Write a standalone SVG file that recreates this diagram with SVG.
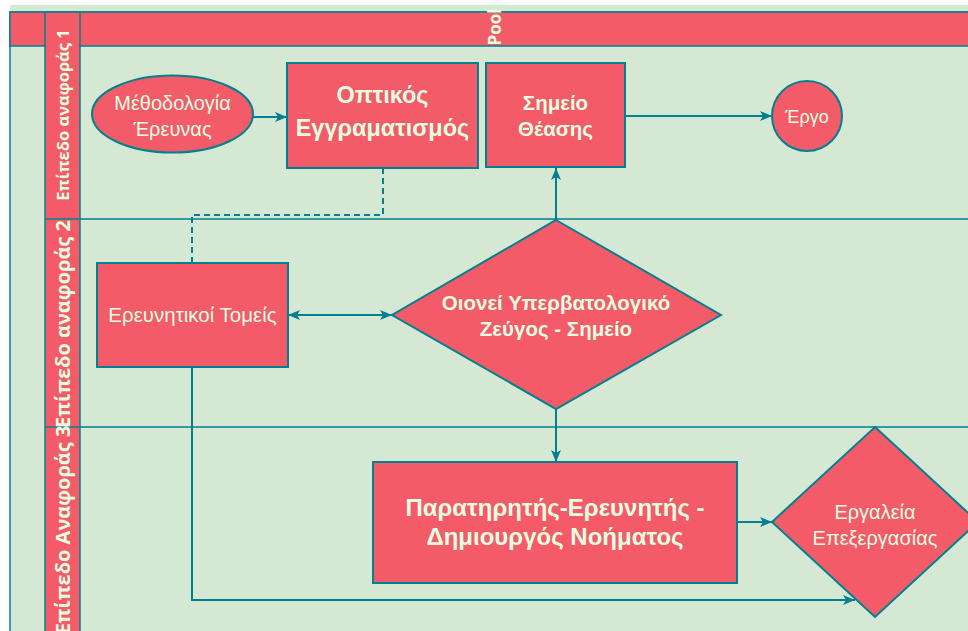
<svg xmlns="http://www.w3.org/2000/svg" width="968" height="631" viewBox="0 0 968 631">
<defs>
<style>
.bg{fill:#D5E8D4;}
.red{fill:#F45B69;stroke:#028090;stroke-width:2;}
.lane{fill:none;stroke:#028090;stroke-width:1.5;}
.edge{fill:none;stroke:#028090;stroke-width:2;}
.dash{fill:none;stroke:#028090;stroke-width:2;stroke-dasharray:6 4;}
.t{font-family:"Liberation Sans",Arial,sans-serif;fill:#E4FDE1;text-anchor:middle;}
.b{font-weight:bold;}
.lbl{font-family:"Open Sans","Liberation Sans",sans-serif;font-weight:bold;fill:#E4FDE1;text-anchor:middle;dominant-baseline:central;}
</style>
<marker id="arr" viewBox="0 0 12 10" refX="12" refY="5" markerWidth="12" markerHeight="10" markerUnits="userSpaceOnUse" orient="auto-start-reverse">
<path d="M0,0 L12,5 L0,10 L3,5 z" fill="#028090"/>
</marker>
</defs>
<rect x="0" y="0" width="968" height="631" fill="#FFFFFF"/>
<g id="pool">
<rect class="bg" x="10" y="5" width="958" height="7"/>
<rect class="bg" x="10" y="12" width="970" height="630" stroke="#028090" stroke-width="1.5"/>
<rect x="10" y="12" width="970" height="34" fill="#F45B69" stroke="#028090" stroke-width="1.5"/>
<text class="lbl" font-size="17" transform="translate(494,27) rotate(-90)">Pool</text>
</g>
<g id="lanes">
<rect x="45" y="12" width="35" height="630" fill="#F45B69" stroke="#028090" stroke-width="1.5"/>
<line class="lane" x1="45" y1="219" x2="968" y2="219"/>
<line class="lane" x1="45" y1="427" x2="968" y2="427"/>
<text class="lbl" font-size="16.5" transform="translate(62.5,115) rotate(-90)">Επίπεδο αναφοράς 1</text>
<text class="lbl" font-size="20" transform="translate(62.5,324) rotate(-90)">Επίπεδο αναφοράς 2</text>
<text class="lbl" font-size="20" transform="translate(62.5,530) rotate(-90)">Επίπεδο Αναφοράς 3</text>
</g>
<g id="connectors">
<line class="edge" x1="253" y1="117" x2="287" y2="117" marker-end="url(#arr)"/>
<line class="edge" x1="625" y1="116" x2="772" y2="116" marker-end="url(#arr)"/>
<line class="edge" x1="556" y1="220" x2="556" y2="168" marker-end="url(#arr)"/>
<line class="edge" x1="288" y1="315" x2="392" y2="315" marker-start="url(#arr)" marker-end="url(#arr)"/>
<line class="edge" x1="556" y1="409" x2="556" y2="462" marker-end="url(#arr)"/>
<line class="edge" x1="737" y1="522" x2="772" y2="522" marker-end="url(#arr)"/>
<polyline class="edge" points="192,367 192,600 855,600" marker-end="url(#arr)"/>
<polyline class="dash" points="383,168 383,215 192,215 192,263"/>
</g>
<g id="n-methodologia">
<ellipse class="red" cx="172.5" cy="114" rx="80.5" ry="38.5"/>
<text class="t" font-size="20" x="172.5" y="110">Μέθοδολογία</text>
<text class="t" font-size="20" x="172.5" y="136">Έρευνας</text>
</g>
<g id="n-optikos">
<rect class="red" x="287" y="63" width="191" height="105"/>
<text class="t b" font-size="23.5" x="382.5" y="103">Οπτικός</text>
<text class="t b" font-size="23.5" x="382.5" y="136">Εγγραματισμός</text>
</g>
<g id="n-simeio">
<rect class="red" x="486" y="63" width="139" height="104"/>
<text class="t b" font-size="20.5" x="555.5" y="110">Σημείο</text>
<text class="t b" font-size="20.5" x="555.5" y="136">Θέασης</text>
</g>
<g id="n-ergo">
<circle class="red" cx="807" cy="116" r="35"/>
<text class="t" font-size="18" x="807" y="123">Έργο</text>
</g>
<g id="n-tomeis">
<rect class="red" x="97" y="263" width="191" height="104"/>
<text class="t" font-size="20.5" x="192.5" y="322">Ερευνητικοί Τομείς</text>
</g>
<g id="n-zeugos">
<polygon class="red" points="556,220 721,315 556,409 392,315"/>
<text class="t b" font-size="20.5" x="556" y="310">Οιονεί Υπερβατολογικό</text>
<text class="t b" font-size="20.5" x="556" y="336">Ζεύγος - Σημείο</text>
</g>
<g id="n-paratiritis">
<rect class="red" x="373" y="462" width="364" height="121"/>
<text class="t b" font-size="24" x="555" y="516">Παρατηρητής-Ερευνητής -</text>
<text class="t b" font-size="24" x="555" y="545">Δημιουργός Νοήματος</text>
</g>
<g id="n-ergaleia">
<polygon class="red" points="875,427 978,522 875,617 772,522"/>
<text class="t" font-size="20" x="875" y="519">Εργαλεία</text>
<text class="t" font-size="20" x="875" y="545">Επεξεργασίας</text>
</g>
</svg>
